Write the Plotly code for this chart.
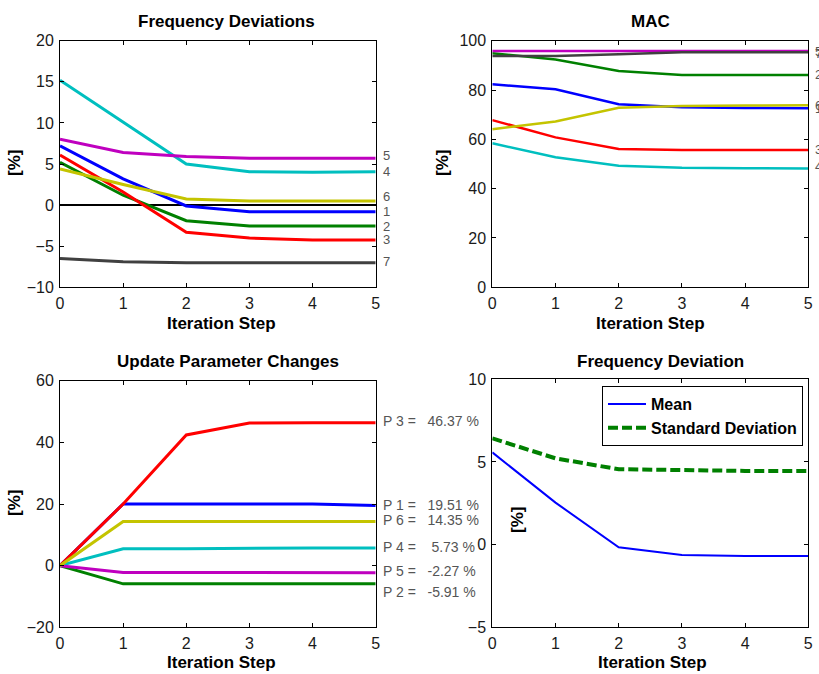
import plotly.graph_objects as go

W, H = 819, 674
FONT = "Liberation Sans, Arial, Helvetica, sans-serif"

steps = [0, 1, 2, 3, 4, 5]

# ---- Frequency Deviations (top-left) ----
fd_names = ["1", "2", "3", "4", "5", "6", "7"]
fd_1 = [7.2, 3.2, -0.1, -0.8, -0.8, -0.8]
fd_2 = [5.2, 1.2, -1.9, -2.55, -2.55, -2.55]
fd_3 = [6.1, 1.6, -3.3, -4.0, -4.25, -4.25]
fd_4 = [15.2, 10.1, 5.0, 4.05, 4.0, 4.05]
fd_5 = [8.0, 6.4, 5.9, 5.7, 5.7, 5.7]
fd_6 = [4.4, 2.5, 0.75, 0.5, 0.5, 0.5]
fd_7 = [-6.5, -6.9, -7.0, -7.0, -7.0, -7.0]
fd_label_y = [-0.8, -2.6, -4.2, 4.07, 6.05, 1.03, -6.8]

# ---- MAC (top-right) ----
mac_1 = [82.3, 80.3, 74.2, 73.0, 72.7, 72.6]
mac_2 = [94.9, 92.4, 87.7, 86.1, 86.1, 86.1]
mac_3 = [67.8, 60.8, 56.1, 55.7, 55.7, 55.7]
mac_4 = [58.4, 52.7, 49.3, 48.5, 48.3, 48.2]
mac_5 = [95.8, 95.8, 95.8, 95.8, 95.8, 95.8]
mac_6 = [64.1, 67.2, 72.8, 73.5, 73.7, 73.8]
mac_7 = [93.8, 93.8, 94.5, 95.3, 95.3, 95.3]
mac_label_y = [72.4, 86.1, 55.7, 48.8, 95.8, 73.6, 95.0]

# ---- Update Parameter Changes (bottom-left) ----
p_names = ["P 1", "P 2", "P 3", "P 4", "P 5", "P 6"]
p_1 = [0, 20.0, 20.0, 20.0, 20.0, 19.51]
p_2 = [0, -5.9, -5.9, -5.9, -5.9, -5.91]
p_3 = [0, 20.0, 42.4, 46.3, 46.37, 46.37]
p_4 = [0, 5.5, 5.5, 5.7, 5.73, 5.73]
p_5 = [0, -2.2, -2.2, -2.25, -2.27, -2.27]
p_6 = [0, 14.3, 14.3, 14.3, 14.35, 14.35]
p_final_text = ["19.51", "-5.91", "46.37", "5.73", "-2.27", "14.35"]
p_label_y = [19.7, -8.4, 46.9, 5.95, -1.7, 14.8]

# ---- Frequency Deviation mean / std (bottom-right) ----
fd_mean = [5.58, 2.54, -0.16, -0.63, -0.69, -0.69]
fd_std = [6.43, 5.22, 4.56, 4.48, 4.46, 4.46]

BLUE, GREEN, RED = "#0000ff", "#008000", "#ff0000"
CYAN, MAGENTA, YELLOW, GRAY = "#00bfbf", "#bf00bf", "#c4c400", "#404040"

fig = go.Figure()

def px_x(p):
    return p / W

def px_y(p):
    return 1 - p / H

for s, c in zip([fd_7, fd_2, fd_3, fd_1, fd_6, fd_4, fd_5],
                [GRAY, GREEN, RED, BLUE, YELLOW, CYAN, MAGENTA]):
    fig.add_trace(go.Scatter(x=steps, y=s, mode="lines", line=dict(color=c, width=3),
                             showlegend=False, xaxis="x", yaxis="y"))

for s, c in zip([mac_4, mac_3, mac_2, mac_1, mac_6, mac_5, mac_7],
                [CYAN, RED, GREEN, BLUE, YELLOW, MAGENTA, GRAY]):
    fig.add_trace(go.Scatter(x=steps, y=s, mode="lines", line=dict(color=c, width=2.5),
                             showlegend=False, xaxis="x2", yaxis="y2"))

p_series = [p_1, p_2, p_3, p_4, p_5, p_6]
p_colors = [BLUE, GREEN, RED, CYAN, MAGENTA, YELLOW]
for s, c in zip(p_series, p_colors):
    fig.add_trace(go.Scatter(x=steps, y=s, mode="lines", line=dict(color=c, width=3),
                             showlegend=False, xaxis="x3", yaxis="y3"))

fig.add_trace(go.Scatter(x=steps, y=fd_mean, mode="lines", name="Mean",
                         line=dict(color=BLUE, width=2), xaxis="x4", yaxis="y4"))
fig.add_trace(go.Scatter(x=steps, y=fd_std, mode="lines", name="Standard Deviation",
                         line=dict(color=GREEN, width=4, dash="10px,4px"),
                         xaxis="x4", yaxis="y4"))

xl, xr = px_x(60), px_x(375.7)
xl2, xr2 = px_x(492.3), px_x(808.3)
top_dom = [px_y(287.3), px_y(40.7)]
bl_dom = [px_y(627.3), px_y(380.7)]
br_dom = [px_y(627.3), px_y(379.3)]

tickfont = dict(family=FONT, size=16, color="#1a1a1a")
common = dict(showgrid=False, showline=True, linecolor="black", linewidth=1,
              mirror="ticks", ticks="inside", ticklen=4, tickcolor="black",
              tickfont=tickfont, zeroline=False, fixedrange=True, automargin=False)

def xax(dom, anchor):
    return dict(domain=dom, range=[0, 5], dtick=1, tick0=0, anchor=anchor,
                ticklabelstandoff=1, **common)

def yax(dom, rng, dtick, anchor, zl=False):
    d = dict(domain=dom, range=rng, dtick=dtick, anchor=anchor, ticklabelstandoff=2, **common)
    if zl:
        d["zeroline"] = True
        d["zerolinecolor"] = "black"
        d["zerolinewidth"] = 2
    return d

fig.update_layout(
    template="none",
    width=W, height=H, margin=dict(l=0, r=0, t=0, b=0, autoexpand=False),
    paper_bgcolor="white", plot_bgcolor="white",
    font=dict(family=FONT, color="black"),
    xaxis=xax([xl, xr], "y"),
    yaxis=yax(top_dom, [-10, 20], 5, "x", zl=True),
    xaxis2=xax([xl2, xr2], "y2"),
    yaxis2=yax(top_dom, [0, 100], 20, "x2"),
    xaxis3=xax([xl, xr], "y3"),
    yaxis3=yax(bl_dom, [-20, 60], 20, "x3"),
    xaxis4=xax([xl2, xr2], "y4"),
    yaxis4=yax(br_dom, [-5, 10], 5, "x4"),
    showlegend=True,
    legend=dict(x=px_x(602), y=px_y(386), xanchor="left", yanchor="top",
                bordercolor="black", borderwidth=1, bgcolor="white",
                font=dict(family=FONT, size=16, color="black", weight="bold"),
                itemwidth=38, tracegroupgap=0),
)

ann = []
bold = dict(family=FONT, size=17, color="black", weight="bold")
for txt, cx, cy in [("Frequency Deviations", 226, 21), ("MAC", 650, 21),
                    ("Update Parameter Changes", 228, 361), ("Frequency Deviation", 660, 361)]:
    ann.append(dict(text=txt, x=px_x(cx), y=px_y(cy), xref="paper", yref="paper",
                    showarrow=False, font=bold, xanchor="center", yanchor="middle"))
for cx, cy in [(222, 323), (650, 323), (222, 662), (652, 662)]:
    ann.append(dict(text="Iteration Step", x=px_x(cx), y=px_y(cy), xref="paper", yref="paper",
                    showarrow=False, font=bold, xanchor="center", yanchor="middle"))
for cx, cy in [(15, 163), (443, 163), (15, 503), (517, 520)]:
    ann.append(dict(text="[%]", x=px_x(cx), y=px_y(cy), xref="paper", yref="paper",
                    showarrow=False, font=bold, textangle=-90,
                    xanchor="center", yanchor="middle"))

lab_font = dict(family=FONT, size=13, color="#555555")
for name, ly in zip(fd_names, fd_label_y):
    ann.append(dict(text=name, x=5, y=ly, xref="x", yref="y", showarrow=False,
                    font=lab_font, xanchor="left", yanchor="middle", xshift=5))
for name, ly in zip(fd_names, mac_label_y):
    ann.append(dict(text=name, x=5, y=ly, xref="x2", yref="y2", showarrow=False,
                    font=lab_font, xanchor="left", yanchor="middle", xshift=5))
p_font = dict(family=FONT, size=14, color="#555555")
for name, val, ly in zip(p_names, p_final_text, p_label_y):
    pad = "&nbsp;" * (2 if len(val.replace("-", "")) >= 5 or val.startswith("-") else 3)
    ann.append(dict(text=f"{name}&nbsp;=&nbsp;{pad}{val}&nbsp;%", x=5, y=ly, xref="x3", yref="y3",
                    showarrow=False, font=p_font, xanchor="left", yanchor="middle", xshift=5))

fig.update_layout(annotations=ann)
fig.write_html("out.html")
